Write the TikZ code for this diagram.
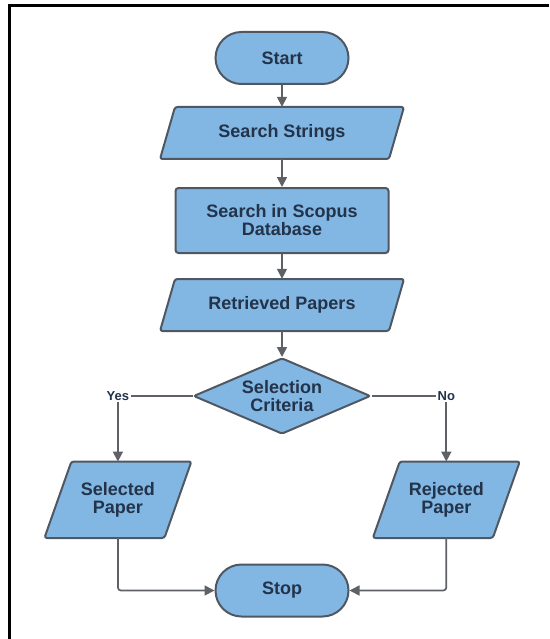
\documentclass[tikz,border=0pt]{standalone}
\usepackage{fontspec}
\setmainfont{Liberation Sans}
\usetikzlibrary{arrows.meta,shapes.geometric}
\definecolor{boxfill}{HTML}{82B7E3}
\definecolor{boxline}{HTML}{4F5862}
\definecolor{txt}{HTML}{22334A}
\definecolor{arr}{HTML}{5E6166}
\tikzset{
  base/.style={font=\bfseries\fontsize{18}{18}\selectfont, text=txt, align=center, inner sep=0pt},
  term/.style={base, draw=boxline, fill=boxfill, line width=2pt, rounded corners=26pt, minimum width=133pt, minimum height=52pt},
  proc/.style={base, draw=boxline, fill=boxfill, line width=2pt, rounded corners=3pt, minimum width=213pt, minimum height=65pt},
  paraface/.style={draw=boxline, fill=boxfill, line width=2pt, rounded corners=2.5pt, line join=round},
  paratext/.style={base, minimum width=200pt, minimum height=52pt},
  paratextsm/.style={base, minimum width=100pt, minimum height=76pt},
  dec/.style={base, diamond, aspect=2.3, draw=boxline, fill=boxfill, line width=2pt, rounded corners=2pt, minimum width=177pt, minimum height=76pt},
  conn/.style={draw=arr, line width=1.7pt, -{Triangle[length=10pt,width=10pt]}},
  thinline/.style={draw=arr, line width=1.1pt},
  lab/.style={font=\bfseries\fontsize{13}{13}\selectfont, text=txt, inner sep=1.5pt},
  frame/.style={draw=black, line width=3pt}
}
\begin{document}
\begin{tikzpicture}[x=1pt,y=-1pt]
\useasboundingbox (0,0) rectangle (549,639);
\fill[white] (0,0) rectangle (549,639);
% outer frame (left and top edges visible)
\draw[frame] (9.5,639) -- (9.5,6) -- (549,6);

% shapes
\node[term] (start) at (282,58) {Start};

\path[paraface] (175,107) -- (404,107) -- (389,159) -- (160,159) -- cycle;
\node[paratext] (ss) at (282,133) {Search Strings};

\node[proc] (scp) at (282,220.5) {Search in Scopus\\Database};

\path[paraface] (175,279) -- (404,279) -- (389,331) -- (160,331) -- cycle;
\node[paratext] (rp) at (282,305) {Retrieved Papers};

\node[dec] (crit) at (282,396) {Selection\\Criteria};

\node[lab] (yes) at (117.9,396) {Yes};
\node[lab] (no) at (446.3,396) {No};

\path[paraface] (71.4,461.5) -- (191.4,461.5) -- (164.4,538) -- (44.4,538) -- cycle;
\node[paratextsm] (sel) at (117.9,499.75) {Selected\\Paper};

\path[paraface] (399.8,461.5) -- (519.8,461.5) -- (492.8,538) -- (372.8,538) -- cycle;
\node[paratextsm] (rej) at (446.3,499.75) {Rejected\\Paper};

\node[term] (stop) at (282,590.5) {Stop};

% connectors
\draw[conn] (start.south) -- (ss.north);
\draw[conn] (ss.south) -- (scp.north);
\draw[conn] (scp.south) -- (rp.north);
\draw[conn] (rp.south) -- (crit.north);
\draw[thinline] (crit.west) -- (yes.east);
\draw[thinline] (crit.east) -- (no.west);
\draw[conn] (yes.south) -- (sel.north);
\draw[conn] (no.south) -- (rej.north);
\draw[conn, rounded corners=3pt] (sel.south) |- (stop.west);
\draw[conn, rounded corners=3pt] (rej.south) |- (stop.east);
\end{tikzpicture}
\end{document}
